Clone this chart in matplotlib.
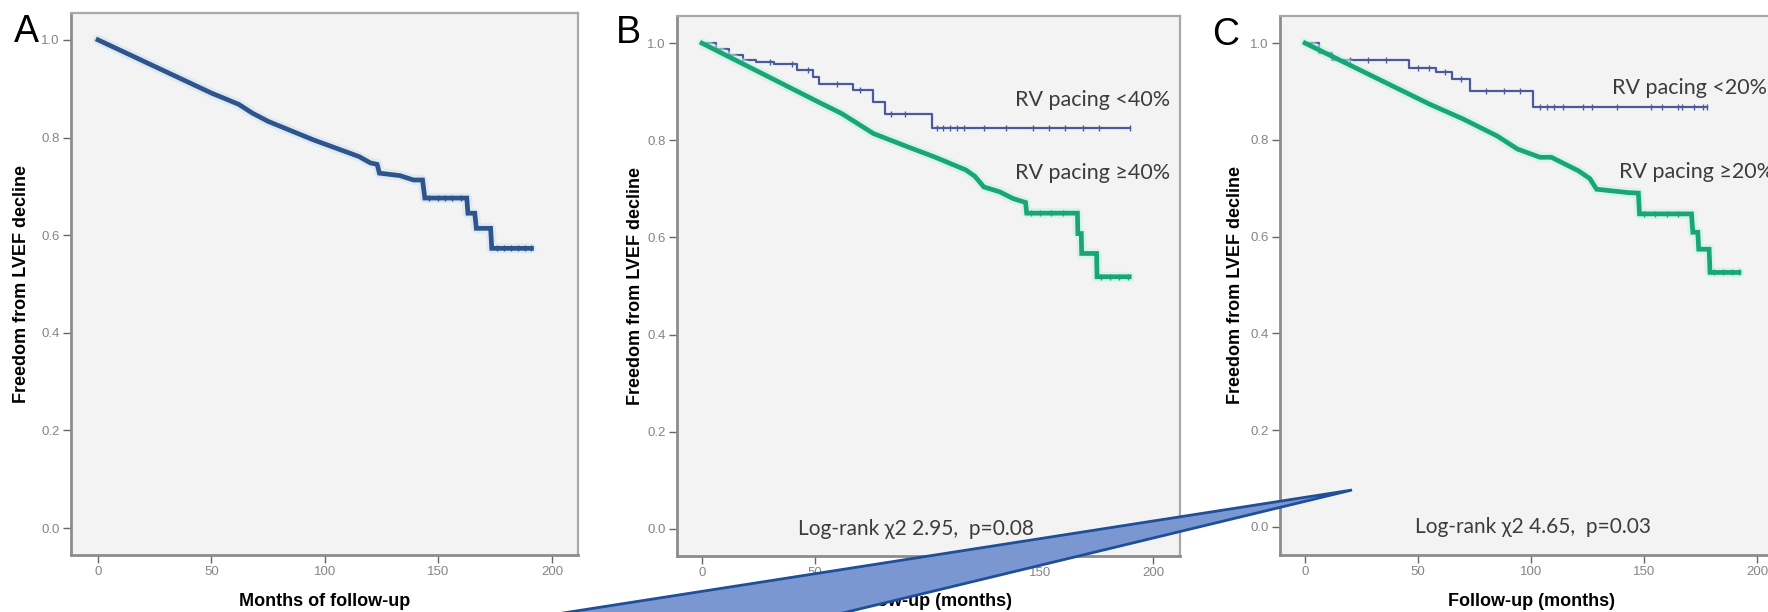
import numpy as np
import matplotlib
matplotlib.use("Agg")
import matplotlib.pyplot as plt
from matplotlib.patches import Polygon

# ── data (months, cumulative freedom from LVEF decline) ──
# dense curves: outline vertices as seen (many tiny steps merge into a slope)
a_time = [0, 50, 62, 68, 75, 95, 115, 120, 123, 124, 133, 139, 143, 144,
          162.5, 163, 166, 166.7, 173, 173.5, 191]
a_surv = [1.0, 0.891, 0.868, 0.850, 0.833, 0.795, 0.761, 0.748, 0.745, 0.727,
          0.722, 0.713, 0.713, 0.676, 0.676, 0.645, 0.645, 0.614, 0.614,
          0.573, 0.573]
a_cens = [146, 150, 153, 156, 160, 176, 179, 182, 185, 188, 191]

# panel B: RV pacing <40% (steps) / >=40% (outline)
b_lo_time = [0, 6, 12, 18, 24, 32, 42, 49, 52, 67, 76, 81, 102]
b_lo_surv = [1.0, 0.988, 0.976, 0.966, 0.961, 0.958, 0.944, 0.931, 0.917,
             0.903, 0.879, 0.855, 0.826]
b_lo_end = 190
b_lo_cens = [30, 40, 47, 60, 70, 84, 90, 104, 107, 110, 113, 116, 125, 135,
             147, 154, 161, 169, 176, 190]

b_hi_time = [0, 52, 62, 76, 91, 103, 117, 121, 125, 132, 138, 143.5, 144,
             166.5, 166.7, 168.2, 168.4, 175, 175.2, 189.5]
b_hi_surv = [1.0, 0.878, 0.855, 0.814, 0.787, 0.766, 0.739, 0.726, 0.704,
             0.694, 0.680, 0.672, 0.650, 0.650, 0.608, 0.608, 0.567, 0.567,
             0.519, 0.519]
b_hi_cens = [146, 150, 155, 160, 177, 181, 185, 189]

# panel C: RV pacing <20% (steps) / >=20% (outline)
c_lo_time = [0, 6, 12, 46, 58, 65, 73, 101]
c_lo_surv = [1.0, 0.980, 0.965, 0.948, 0.940, 0.926, 0.901, 0.867]
c_lo_end = 178
c_lo_cens = [20, 28, 36, 50, 55, 62, 69, 80, 88, 95, 104, 107, 110, 114, 123,
             127, 138, 153, 158, 165, 167, 172, 176, 178]

c_hi_time = [0, 55, 70, 85, 94, 104, 109, 121, 126, 129, 143, 147.5, 148,
             171, 171.6, 173.8, 174.2, 178.8, 179.2, 192]
c_hi_surv = [1.0, 0.874, 0.843, 0.808, 0.781, 0.764, 0.764, 0.736, 0.720,
             0.698, 0.691, 0.690, 0.647, 0.647, 0.609, 0.609, 0.574, 0.574,
             0.526, 0.526]
c_hi_cens = [150, 155, 160, 165, 181, 185, 189, 192]

x_ticks = [0, 50, 100, 150, 200]
y_ticks = [0.0, 0.2, 0.4, 0.6, 0.8, 1.0]
y_label = "Freedom from LVEF decline"

# ── figure ────────────────────────────────────────────────────────────────
W, H = 1768, 612
fig = plt.figure(figsize=(W / 100, H / 100), dpi=100)
fig.patch.set_facecolor("white")

BLUE_A = "#2f5489"
BLUE = "#4b5a9c"
GREEN = "#1aa578"
TXT = ["Lato", "DejaVu Sans"]


def fx(px):
    return px / W


def fy(py):
    return 1 - py / H


def make_axes(left, right, top, bottom, xlim, ylim):
    ax = fig.add_axes([fx(left), fy(bottom), (right - left) / W, (bottom - top) / H])
    ax.set_facecolor("#f3f3f3")
    ax.set_xlim(*xlim)
    ax.set_ylim(*ylim)
    ax.set_xticks(x_ticks)
    ax.set_yticks(y_ticks)
    ax.set_yticklabels([f"{v:.1f}" for v in y_ticks])
    ax.tick_params(direction="out", length=6, width=1, color="#666666",
                   labelcolor="#858585", labelsize=9.5, pad=2)
    for lab in ax.get_xticklabels() + ax.get_yticklabels():
        lab.set_family("Liberation Sans")
    for side in ("left", "bottom"):
        ax.spines[side].set_color("#8c8c8c")
        ax.spines[side].set_linewidth(2)
    for side in ("top", "right"):
        ax.spines[side].set_color("#a8a8a8")
        ax.spines[side].set_linewidth(1.6)
    return ax


def km_steps(ax, t, s, t_end, color, lw, cens):
    tt = list(t) + [t_end]
    ss = list(s) + [s[-1]]
    ax.step(tt, ss, where="post", color=color, lw=lw)
    ys = [s[np.searchsorted(t, c, side="right") - 1] for c in cens]
    ax.plot(cens, ys, ls="none", marker="|", ms=5, mew=1, color=color)


def km_outline(ax, t, s, color, halo, lw, cens):
    ax.plot(t, s, color=halo, lw=lw + 4, alpha=0.55, solid_capstyle="round")
    ax.plot(t, s, color=color, lw=lw, solid_joinstyle="miter")
    ax.plot(cens, np.interp(cens, t, s), ls="none", marker="|", ms=5, mew=1,
            color=color)


def labels(left, right, top, bottom, ylab_x, xlab):
    fig.text(fx(ylab_x), fy((top + bottom) / 2), y_label, rotation=90,
             ha="center", va="center", fontsize=13, fontweight="bold",
             family="Liberation Sans")
    fig.text(fx((left + right) / 2), fy(601), xlab, ha="center", va="center",
             fontsize=13, fontweight="bold", family="Liberation Sans")


# ---- A ----
axA = make_axes(71, 578, 13, 555, (-11.9, 211.5), (-0.055, 1.055))
km_outline(axA, a_time, a_surv, BLUE_A, "#cfe2f6", 3.4, a_cens)
labels(71, 578, 13, 555, 22, "Months of follow-up")
fig.text(fx(14), fy(42), "A", fontsize=27, family="Liberation Sans",
         ha="left", va="baseline")

# ---- B ----
axB = make_axes(677, 1180, 16, 556, (-11.1, 212), (-0.056, 1.056))
km_steps(axB, b_lo_time, b_lo_surv, b_lo_end, BLUE, 1.6, b_lo_cens)
km_outline(axB, b_hi_time, b_hi_surv, GREEN, "#c5f3e0", 3.4, b_hi_cens)
labels(677, 1180, 16, 556, 636, "Follow-up (months)")
fig.text(fx(616), fy(43), "B", fontsize=27, family="Liberation Sans",
         ha="left", va="baseline")
axB.text(207.5, 0.883, "RV pacing <40%", ha="right", va="center",
         fontsize=15.5, color="#3c3c3c", family=TXT)
axB.text(207.5, 0.733, "RV pacing \u226540%", ha="right", va="center",
         fontsize=15.5, color="#3c3c3c", family=TXT)
axB.text(95, 0.0, "Log-rank \u03c72 2.95,  p=0.08", ha="center", va="center",
         fontsize=15, color="#3c3c3c", family=TXT)

# ---- C ----
axC = make_axes(1280, 1783, 16, 555, (-11.1, 211.5), (-0.058, 1.056))
km_steps(axC, c_lo_time, c_lo_surv, c_lo_end, BLUE, 1.6, c_lo_cens)
km_outline(axC, c_hi_time, c_hi_surv, GREEN, "#c5f3e0", 3.4, c_hi_cens)
labels(1280, 1783, 16, 555, 1235, "Follow-up (months)")
fig.text(fx(1212), fy(45), "C", fontsize=27, family="Liberation Sans",
         ha="left", va="baseline")
axC.text(136, 0.908, "RV pacing <20%", ha="left", va="center",
         fontsize=15.5, color="#3c3c3c", family=TXT)
axC.text(139, 0.734, "RV pacing \u226520%", ha="left", va="center",
         fontsize=15.5, color="#3c3c3c", family=TXT)
axC.text(101, 0.0, "Log-rank \u03c72 4.65,  p=0.03", ha="center", va="center",
         fontsize=15, color="#3c3c3c", family=TXT)

# ---- callout wedge pointing into panel C ----
wedge_px = [(1352, 490), (390, 640), (731, 640)]
wedge = Polygon([(fx(x), fy(y)) for x, y in wedge_px], closed=True,
                transform=fig.transFigure, facecolor="#7b97d2",
                edgecolor="#1f4f98", linewidth=2, zorder=10)
fig.add_artist(wedge)

fig.savefig("out.png", dpi=100)
